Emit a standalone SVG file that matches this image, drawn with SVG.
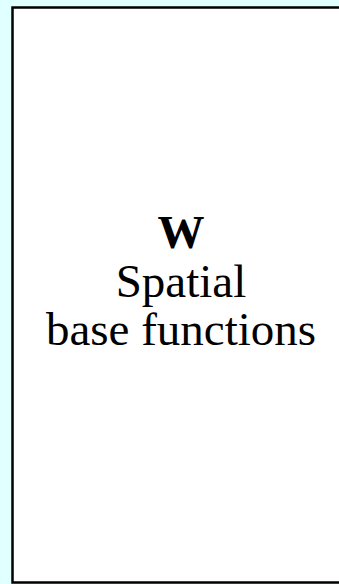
<svg xmlns="http://www.w3.org/2000/svg" width="339" height="584" viewBox="0 0 339 584">
<style>
.box{fill:#ffffff;stroke:#000000;stroke-width:2.5}
.t{font-family:"Liberation Serif","Times New Roman",serif;font-size:47px;fill:#000000;text-anchor:middle}
.b{font-weight:bold}
</style>
<rect x="0" y="0" width="339" height="584" fill="#e0ffff"/>
<g id="node-W">
<rect class="box" x="12.5" y="7.5" width="337" height="575"/>
<text class="t b" x="181" y="248">W</text>
<text class="t" x="181" y="296.5">Spatial</text>
<text class="t" x="181" y="345">base functions</text>
</g>
<g id="connectors"/>
</svg>
